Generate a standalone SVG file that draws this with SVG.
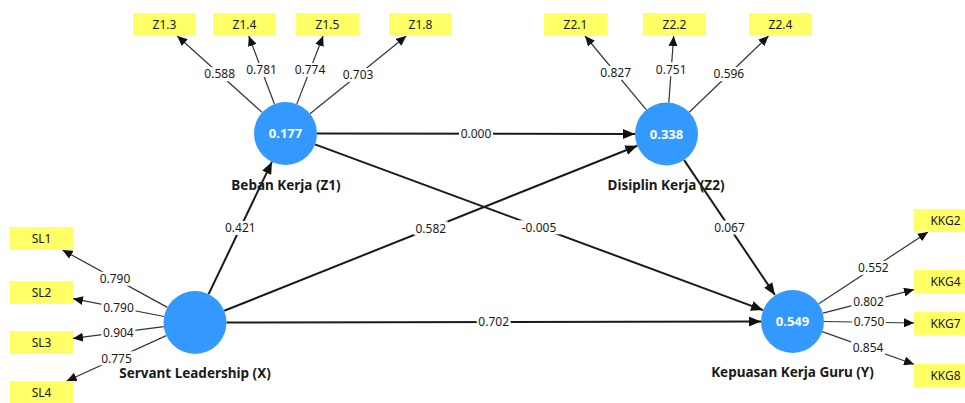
<svg xmlns="http://www.w3.org/2000/svg" width="965" height="403" viewBox="0 0 965 403">
  <style>
    .latent circle { fill: #3399ff; }
    .latent .val { font-family: "Noto Sans", "Open Sans", sans-serif; font-size: 13px; font-weight: bold; fill: #ffffff; text-anchor: middle; }
    .latent .name { font-family: "Noto Sans", "Open Sans", sans-serif; font-size: 13.5px; font-weight: bold; fill: #1a1a1a; text-anchor: middle; }
    .ind rect { fill: #ffff66; }
    .ind text { font-family: "Noto Sans", "Open Sans", sans-serif; font-size: 12px; fill: #1a1a1a; text-anchor: middle; }
    .outer { stroke: #333333; stroke-width: 1.2; fill: none; marker-end: url(#headS); }
    .inner { stroke: #1a1a1a; stroke-width: 2; fill: none; marker-end: url(#headL); }
    .bg { fill: #ffffff; }
    .lbl { font-family: "Noto Sans", "Open Sans", sans-serif; font-size: 12px; fill: #1a1a1a; text-anchor: middle; }
  </style>
  <defs>
    <marker id="headS" markerUnits="userSpaceOnUse" markerWidth="10" markerHeight="9" refX="10" refY="4.5" orient="auto">
      <path d="M0,0 L10,4.5 L0,9 z" fill="#111111"/>
    </marker>
    <marker id="headL" markerUnits="userSpaceOnUse" markerWidth="12" markerHeight="10" refX="12" refY="5" orient="auto">
      <path d="M0,0 L12,5 L0,10 z" fill="#111111"/>
    </marker>
  </defs>
  <rect width="965" height="403" fill="#ffffff"/>

  <!-- connectors: structural paths and outer loadings -->
  <g id="connectors">
    <path class="outer" d="M262.1,112.4 L177.3,36"/>
    <path class="outer" d="M274.4,104 L248.8,36"/>
    <path class="outer" d="M296.8,104.1 L323.1,36"/>
    <path class="outer" d="M310,113.7 L406.3,36"/>
    <path class="outer" d="M646.4,109.8 L585.1,36"/>
    <path class="outer" d="M668.8,102.6 L673.7,36"/>
    <path class="outer" d="M689.2,112.2 L768.5,36"/>
    <path class="outer" d="M167.4,307.4 L62.5,250"/>
    <path class="outer" d="M164.1,316.5 L73,298.7"/>
    <path class="outer" d="M163.8,326.6 L73,338.4"/>
    <path class="outer" d="M166.3,335.6 L66.7,381"/>
    <path class="outer" d="M818.8,303.7 L928,232"/>
    <path class="outer" d="M823,313.1 L914,289.6"/>
    <path class="outer" d="M824,321.5 L914,323"/>
    <path class="outer" d="M822.2,331.6 L914,364.3"/>

    <path class="inner" d="M317,133.5 L635,134"/>
    <path class="inner" d="M315,144.4 L763,310.1"/>
    <path class="inner" d="M208.6,294.1 L271.9,161.9"/>
    <path class="inner" d="M224.2,310.8 L637.3,145.7"/>
    <path class="inner" d="M226.5,322.5 L761,321.5"/>
    <path class="inner" d="M684.1,160.1 L774.9,294.9"/>

    <!-- label backgrounds break the lines under each coefficient -->
    <rect class="bg" x="202.7" y="67.2" width="34" height="14"/>
    <rect class="bg" x="244.6" y="63" width="34" height="14"/>
    <rect class="bg" x="293" y="63" width="34" height="14"/>
    <rect class="bg" x="341.1" y="67.9" width="34" height="14"/>
    <rect class="bg" x="598.7" y="65.9" width="34" height="14"/>
    <rect class="bg" x="654.2" y="62.3" width="34" height="14"/>
    <rect class="bg" x="711.9" y="67.1" width="34" height="14"/>
    <rect class="bg" x="98" y="271.7" width="34" height="14"/>
    <rect class="bg" x="101.5" y="300.6" width="34" height="14"/>
    <rect class="bg" x="101.4" y="325.5" width="34" height="14"/>
    <rect class="bg" x="99.5" y="351.3" width="34" height="14"/>
    <rect class="bg" x="856.4" y="260.9" width="34" height="14"/>
    <rect class="bg" x="851.5" y="294.4" width="34" height="14"/>
    <rect class="bg" x="852" y="315.2" width="34" height="14"/>
    <rect class="bg" x="851.1" y="341" width="34" height="14"/>
    <rect class="bg" x="459" y="126.7" width="34" height="14"/>
    <rect class="bg" x="517" y="220.3" width="44" height="14"/>
    <rect class="bg" x="223.3" y="221" width="34" height="14"/>
    <rect class="bg" x="413.8" y="221.3" width="34" height="14"/>
    <rect class="bg" x="476.7" y="315" width="34" height="14"/>
    <rect class="bg" x="712.5" y="220.5" width="34" height="14"/>

    <text class="lbl" x="219.7" y="78.4">0.588</text>
    <text class="lbl" x="261.6" y="74.2">0.781</text>
    <text class="lbl" x="310" y="74.2">0.774</text>
    <text class="lbl" x="358.1" y="79.1">0.703</text>
    <text class="lbl" x="615.7" y="77.1">0.827</text>
    <text class="lbl" x="671.2" y="73.5">0.751</text>
    <text class="lbl" x="728.9" y="78.3">0.596</text>
    <text class="lbl" x="115" y="282.9">0.790</text>
    <text class="lbl" x="118.5" y="311.8">0.790</text>
    <text class="lbl" x="118.4" y="336.7">0.904</text>
    <text class="lbl" x="116.5" y="362.5">0.775</text>
    <text class="lbl" x="873.4" y="272.1">0.552</text>
    <text class="lbl" x="868.5" y="305.6">0.802</text>
    <text class="lbl" x="869" y="326.4">0.750</text>
    <text class="lbl" x="868.1" y="352.2">0.854</text>

    <text class="lbl" x="476" y="137.9">0.000</text>
    <text class="lbl" x="539" y="231.5">-0.005</text>
    <text class="lbl" x="240.3" y="232.2">0.421</text>
    <text class="lbl" x="430.8" y="232.5">0.582</text>
    <text class="lbl" x="493.7" y="326.2">0.702</text>
    <text class="lbl" x="729.5" y="231.7">0.067</text>
  </g>

  <!-- latent variables -->
  <g id="Z1" class="latent">
    <circle cx="285.5" cy="133.5" r="31.5"/>
    <text class="val" x="285.5" y="138">0.177</text>
    <text class="name" x="286" y="190">Beban Kerja (Z1)</text>
  </g>
  <g id="Z2" class="latent">
    <circle cx="666.5" cy="134" r="31.5"/>
    <text class="val" x="666.5" y="138.5">0.338</text>
    <text class="name" x="666" y="190">Disiplin Kerja (Z2)</text>
  </g>
  <g id="X" class="latent">
    <circle cx="195" cy="322.5" r="31.5"/>
    <text class="name" x="195" y="378">Servant Leadership (X)</text>
  </g>
  <g id="Y" class="latent">
    <circle cx="792.5" cy="321.5" r="31.5"/>
    <text class="val" x="792.5" y="326">0.549</text>
    <text class="name" x="792.5" y="377">Kepuasan Kerja Guru (Y)</text>
  </g>

  <!-- indicators -->
  <g id="Z1_3" class="ind"><rect x="133" y="13" width="63" height="23"/><text x="164.5" y="28.5">Z1.3</text></g>
  <g id="Z1_4" class="ind"><rect x="213" y="13" width="63" height="23"/><text x="244.5" y="28.5">Z1.4</text></g>
  <g id="Z1_5" class="ind"><rect x="296" y="13" width="63" height="23"/><text x="327.5" y="28.5">Z1.5</text></g>
  <g id="Z1_8" class="ind"><rect x="389" y="13" width="63" height="23"/><text x="420.5" y="28.5">Z1.8</text></g>
  <g id="Z2_1" class="ind"><rect x="544" y="13" width="63" height="23"/><text x="575.5" y="28.5">Z2.1</text></g>
  <g id="Z2_2" class="ind"><rect x="643" y="13" width="63" height="23"/><text x="674.5" y="28.5">Z2.2</text></g>
  <g id="Z2_4" class="ind"><rect x="749" y="13" width="63" height="23"/><text x="780.5" y="28.5">Z2.4</text></g>
  <g id="SL1" class="ind"><rect x="10" y="227" width="63" height="23"/><text x="41.5" y="242.5">SL1</text></g>
  <g id="SL2" class="ind"><rect x="10" y="281" width="63" height="23"/><text x="41.5" y="296.5">SL2</text></g>
  <g id="SL3" class="ind"><rect x="10" y="331" width="63" height="23"/><text x="41.5" y="346.5">SL3</text></g>
  <g id="SL4" class="ind"><rect x="10" y="381" width="63" height="23"/><text x="41.5" y="396.5">SL4</text></g>
  <g id="KKG2" class="ind"><rect x="914" y="209" width="63" height="23"/><text x="945.5" y="224.5">KKG2</text></g>
  <g id="KKG4" class="ind"><rect x="914" y="270" width="63" height="23"/><text x="945.5" y="285.5">KKG4</text></g>
  <g id="KKG7" class="ind"><rect x="914" y="312" width="63" height="23"/><text x="945.5" y="327.5">KKG7</text></g>
  <g id="KKG8" class="ind"><rect x="914" y="364" width="63" height="23"/><text x="945.5" y="379.5">KKG8</text></g>
</svg>
